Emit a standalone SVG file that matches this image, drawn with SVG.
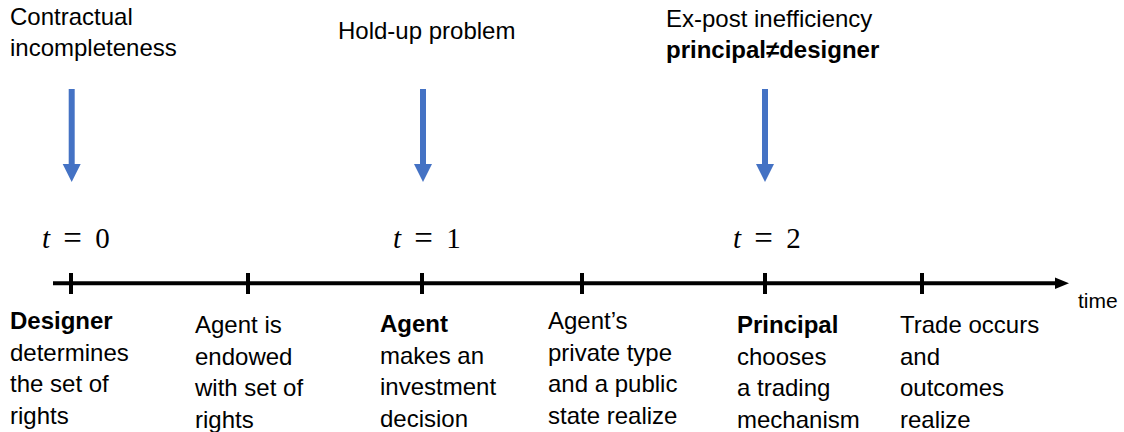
<svg xmlns="http://www.w3.org/2000/svg" width="1124" height="432" viewBox="0 0 1124 432">
<style>
.lbl{font-family:"Liberation Sans",Arial,sans-serif;font-size:24px;fill:#000}
.b{font-weight:bold}
.math{font-family:"Liberation Serif","Times New Roman",serif;font-size:29px;fill:#000;text-anchor:middle}
.it{font-style:italic}
.eq{font-size:33px}
.tl{stroke:#000;stroke-width:4;fill:none}
.tick{stroke:#000;stroke-width:4}
.blue{stroke:#4472C4;stroke-width:6;fill:none}
.bhead{fill:#4472C4}
</style>
<rect width="1124" height="432" fill="#fff"/>

<g id="connectors">
  <line class="tl" x1="53" y1="283.3" x2="1058" y2="283.3"/>
  <polygon points="1055,277.5 1069,283.3 1055,289.1" fill="#000"/>
  <g id="arrow-0"><line class="blue" x1="71.7" y1="89" x2="71.7" y2="165"/><polygon class="bhead" points="62.7,164 80.7,164 71.7,182"/></g>
  <g id="arrow-1"><line class="blue" x1="423" y1="89" x2="423" y2="165"/><polygon class="bhead" points="414,164 432,164 423,182"/></g>
  <g id="arrow-2"><line class="blue" x1="765" y1="89" x2="765" y2="165"/><polygon class="bhead" points="756,164 774,164 765,182"/></g>
</g>

<g id="ticks">
  <line class="tick" x1="71" y1="273" x2="71" y2="294"/>
  <line class="tick" x1="248" y1="273" x2="248" y2="294"/>
  <line class="tick" x1="422" y1="273" x2="422" y2="294"/>
  <line class="tick" x1="582" y1="273" x2="582" y2="294"/>
  <line class="tick" x1="765" y1="273" x2="765" y2="294"/>
  <line class="tick" x1="922" y1="273" x2="922" y2="294"/>
</g>

<g id="issue-incompleteness">
  <text class="lbl"><tspan x="10" y="25">Contractual</tspan><tspan x="10" y="55.5">incompleteness</tspan></text>
</g>
<g id="issue-holdup">
  <text class="lbl" x="338" y="39">Hold-up problem</text>
</g>
<g id="issue-expost">
  <text class="lbl"><tspan x="666" y="26.5">Ex-post inefficiency</tspan><tspan class="b" x="666" y="58">principal≠designer</tspan></text>
</g>

<g id="time-0">
  <text class="math"><tspan class="it" x="46" y="248">t</tspan><tspan class="eq" x="72.5" y="248.5">=</tspan><tspan x="102.5" y="248">0</tspan></text>
</g>
<g id="time-1">
  <text class="math"><tspan class="it" x="397" y="248">t</tspan><tspan class="eq" x="423.5" y="248.5">=</tspan><tspan x="453.5" y="248">1</tspan></text>
</g>
<g id="time-2">
  <text class="math"><tspan class="it" x="737" y="248">t</tspan><tspan class="eq" x="763.5" y="248.5">=</tspan><tspan x="793.5" y="248">2</tspan></text>
</g>

<g id="time-axis-label">
  <text class="lbl" x="1078" y="308" style="font-size:21px">time</text>
</g>

<g id="event-designer">
  <text class="lbl"><tspan class="b" x="10" y="329">Designer</tspan><tspan x="10" y="360.5">determines</tspan><tspan x="10" y="392">the set of</tspan><tspan x="10" y="423.5">rights</tspan></text>
</g>
<g id="event-endowed">
  <text class="lbl"><tspan x="195" y="333">Agent is</tspan><tspan x="195" y="364.5">endowed</tspan><tspan x="195" y="396">with set of</tspan><tspan x="195" y="427.5">rights</tspan></text>
</g>
<g id="event-investment">
  <text class="lbl"><tspan class="b" x="380" y="332">Agent</tspan><tspan x="380" y="363.5">makes an</tspan><tspan x="380" y="395">investment</tspan><tspan x="380" y="426.5">decision</tspan></text>
</g>
<g id="event-type">
  <text class="lbl"><tspan x="548" y="329">Agent’s</tspan><tspan x="548" y="360.5">private type</tspan><tspan x="548" y="392">and a public</tspan><tspan x="548" y="423.5">state realize</tspan></text>
</g>
<g id="event-mechanism">
  <text class="lbl"><tspan class="b" x="737" y="333">Principal</tspan><tspan x="737" y="364.5">chooses</tspan><tspan x="737" y="396">a trading</tspan><tspan x="737" y="427.5">mechanism</tspan></text>
</g>
<g id="event-trade">
  <text class="lbl"><tspan x="900" y="333">Trade occurs</tspan><tspan x="900" y="364.5">and</tspan><tspan x="900" y="396">outcomes</tspan><tspan x="900" y="427.5">realize</tspan></text>
</g>
</svg>
